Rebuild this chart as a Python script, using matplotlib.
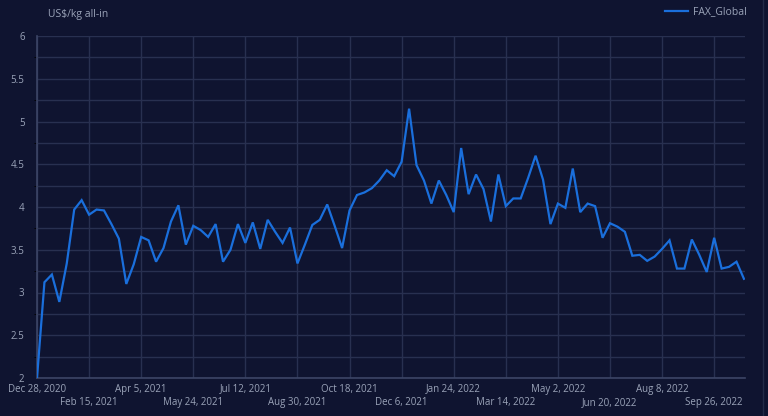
import matplotlib
matplotlib.use("Agg")
import matplotlib.pyplot as plt
import pandas as pd
import numpy as np

# ── Data (weekly, starting Dec 28, 2020) ──────────────────────────────────────
start_date = "2020-12-28"
fax_global = [
    2.00, 3.12, 3.21, 2.89, 3.34, 3.97, 4.08, 3.91, 3.97, 3.96,
    3.80, 3.63, 3.10, 3.33, 3.65, 3.61, 3.36, 3.52, 3.83, 4.02,
    3.56, 3.78, 3.73, 3.65, 3.80, 3.36, 3.50, 3.80, 3.58, 3.82,
    3.51, 3.85, 3.71, 3.58, 3.76, 3.34, 3.56, 3.79, 3.85, 4.03,
    3.78, 3.52, 3.96, 4.14, 4.17, 4.22, 4.31, 4.43, 4.36, 4.53,
    5.15, 4.49, 4.31, 4.04, 4.31, 4.14, 3.94, 4.69, 4.15, 4.38,
    4.21, 3.83, 4.38, 4.01, 4.10, 4.10, 4.34, 4.60, 4.32, 3.80,
    4.04, 3.99, 4.45, 3.94, 4.04, 4.01, 3.64, 3.81, 3.77, 3.71,
    3.43, 3.44, 3.37, 3.42, 3.51, 3.61, 3.28, 3.28, 3.62, 3.44,
    3.24, 3.64, 3.28, 3.30, 3.36, 3.16,
]
dates = pd.date_range(start_date, periods=len(fax_global), freq="7D")
y_ticks = [2, 2.5, 3, 3.5, 4, 4.5, 5, 5.5, 6]

# ── Style ─────────────────────────────────────────────────────────────────────
BG = "#0f1430"
GRID = "#283050"
AXIS = "#3c4566"
TEXT = "#9aa3b8"
LINE = "#1a6fdc"
plt.rcParams["font.family"] = ["Open Sans", "DejaVu Sans"]

fig = plt.figure(figsize=(7.68, 4.16), dpi=100)
fig.patch.set_facecolor(BG)
ax = fig.add_axes([37 / 768, 38 / 416, 708 / 768, 342 / 416])
ax.set_facecolor(BG)

ax.plot(dates, fax_global, color=LINE, lw=1.6, label="FAX_Global",
        solid_joinstyle="miter", zorder=3)

ax.set_xlim(dates[0], dates[-1] + pd.Timedelta(days=1))
ax.set_ylim(2, 6)

# horizontal grid every 0.25, labels every 0.5
ax.set_yticks(np.arange(2, 6.01, 0.25), minor=True)
ax.set_yticks(y_ticks)
ax.set_yticklabels([f"{v:g}" for v in y_ticks])
ax.grid(axis="y", which="both", color=GRID, lw=1, zorder=0)

# x ticks every 7 weeks, staggered in two rows
xt = dates[::7]
labels = []
for i, d in enumerate(xt):
    s = f"{d:%b} {d.day}, {d.year}"
    labels.append(s if i % 2 == 0 else "\n" + s)
ax.set_xticks(xt)
ax.set_xticklabels(labels, linespacing=1.35)
ax.grid(axis="x", color=GRID, lw=1, zorder=0)

ax.tick_params(axis="both", length=0, colors=TEXT, labelsize=7)
ax.tick_params(axis="x", pad=4)
ax.tick_params(axis="y", pad=9)

for side in ["top", "right"]:
    ax.spines[side].set_visible(False)
for side in ["left", "bottom"]:
    ax.spines[side].set_color(AXIS)
    ax.spines[side].set_linewidth(1.2)

# axis title at top-left
fig.text(48 / 768, 1 - 14 / 416, "US$/kg all-in", color=TEXT, fontsize=7.5,
         ha="left", va="center")

# legend at top-right
leg = fig.legend(loc="center right", bbox_to_anchor=(747 / 768, 1 - 12 / 416),
                 frameon=False, fontsize=7.5, handlelength=2.2,
                 handletextpad=0.5, borderaxespad=0, borderpad=0)
for t in leg.get_texts():
    t.set_color(TEXT)

# faint separator at the right edge of the panel
fig.add_artist(plt.Line2D([763 / 768, 763 / 768], [0, 1], color="#232b47",
                          lw=1, transform=fig.transFigure))

fig.savefig("out.png", dpi=100, facecolor=BG)
